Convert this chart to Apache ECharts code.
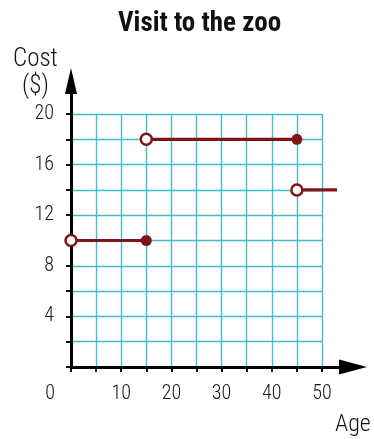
<!DOCTYPE html>
<html>
<head>
<meta charset="utf-8">
<script src="https://cdn.jsdelivr.net/npm/echarts@6/dist/echarts.min.js"></script>
<style>html,body{margin:0;padding:0;background:#fff;}#c{width:374px;height:439px;}</style>
</head>
<body>
<div id="c"></div>
<script>
// ---- data ----
const titleText = 'Visit to the zoo';
const xName = 'Age';
const yName = ['Cost', '($)'];
const segStartAge = [0, 15, 45];
const segEndAge = [15, 45, 53];
const segCost = [10, 18, 14];
const startOpen = [true, true, true];
const endMarker = ['closed', 'closed', 'none'];
const xTickLabels = [0, 10, 20, 30, 40, 50];
const yTickLabels = [4, 8, 12, 16, 20];
const xMax = 50, xStep = 5;
const yMax = 20, yStep = 2;

// ---- layout ----
const W = 374, H = 439;
const X0 = 71, Y0 = 367;       // origin px
const XG = 322, YG = 114;      // grid end px
const XA = 353, YA = 81;       // arrow axis end px (symbol centre)
const pxX = (XG - X0) / xMax, pxY = (Y0 - YG) / yMax;
const xMaxA = (XA - X0) / pxX, yMaxA = (Y0 - YA) / pxY;

const RED = '#7f1518';
const TEAL = '#45bcc3';
const FONT = "Roboto Condensed";
const TXT = '#151515';
const LW = 300;

const chart = echarts.init(document.getElementById('c'), null, {renderer: 'canvas'});

const series = segCost.map((c, i) => {
  const open = {symbol: 'circle', symbolSize: 11, itemStyle: {color: '#fff', borderColor: RED, borderWidth: 2.5}};
  const closed = {symbol: 'circle', symbolSize: 11, itemStyle: {color: RED, borderColor: RED, borderWidth: 0}};
  const none = {symbol: 'none'};
  const s = startOpen[i] ? open : closed;
  const e = endMarker[i] === 'closed' ? closed : (endMarker[i] === 'open' ? open : none);
  return {
    type: 'line', xAxisIndex: 0, yAxisIndex: 0, clip: false, z: 5,
    showSymbol: true, silent: true,
    lineStyle: {color: RED, width: 3.2},
    data: [
      Object.assign({value: [segStartAge[i], c]}, s),
      Object.assign({value: [segEndAge[i], c]}, e)
    ]
  };
});

chart.setOption({
  animation: false,
  backgroundColor: '#fff',
  title: {
    text: titleText, left: 113, top: 6,
    textStyle: {fontFamily: FONT, fontWeight: 'bold', fontSize: 27, color: '#111'}
  },
  grid: [
    {left: X0, right: W - XA, top: YA, bottom: H - Y0, containLabel: false},
    {left: X0, right: W - XG, top: YG, bottom: H - Y0, containLabel: false}
  ],
  xAxis: [
    {gridIndex: 0, type: 'value', min: 0, max: xMaxA, z: 3,
     axisLine: {show: true, symbol: ['none', 'triangle'], symbolSize: [15, 28], lineStyle: {color: '#000', width: 3}},
     axisTick: {show: false}, axisLabel: {show: false}, splitLine: {show: false}},
    {gridIndex: 1, type: 'value', min: 0, max: xMax, interval: xStep, z: 1,
     axisLine: {show: false},
     axisTick: {show: true, length: 5, lineStyle: {color: '#000', width: 1.5}},
     axisLabel: {show: true, margin: 17, fontFamily: FONT, fontWeight: LW, fontSize: 20, color: TXT,
       formatter: v => xTickLabels.indexOf(v) < 0 ? '' : (v === 0 ? '{z|0}' : String(v)),
       rich: {z: {fontFamily: FONT, fontWeight: LW, fontSize: 20, color: TXT, padding: [0, 42, 0, 0]}}},
     splitLine: {show: true, lineStyle: {color: TEAL, width: 1.4}}},
    {gridIndex: 1, type: 'value', min: 0, max: xMax, interval: xStep, z: 2,
     axisLine: {show: false},
     axisTick: {show: true, inside: true, length: 5, lineStyle: {color: '#000', width: 1.5}},
     axisLabel: {show: false}, splitLine: {show: false}}
  ],
  yAxis: [
    {gridIndex: 0, type: 'value', min: 0, max: yMaxA, z: 3,
     axisLine: {show: true, symbol: ['none', 'triangle'], symbolSize: [12, 26], lineStyle: {color: '#000', width: 3}},
     axisTick: {show: false}, axisLabel: {show: false}, splitLine: {show: false}},
    {gridIndex: 1, type: 'value', min: 0, max: yMax, interval: yStep, z: 1,
     axisLine: {show: false},
     axisTick: {show: true, length: 5, lineStyle: {color: '#000', width: 1.5}},
     axisLabel: {show: true, margin: 17, fontFamily: FONT, fontWeight: LW, fontSize: 20, color: TXT,
       formatter: v => yTickLabels.indexOf(v) < 0 ? '' : String(v)},
     splitLine: {show: true, lineStyle: {color: TEAL, width: 1.4}}},
    {gridIndex: 1, type: 'value', min: 0, max: yMax, interval: yStep, z: 2,
     axisLine: {show: false},
     axisTick: {show: true, inside: true, length: 5, lineStyle: {color: '#000', width: 1.5}},
     axisLabel: {show: false}, splitLine: {show: false}}
  ],
  graphic: [
    {type: 'text', left: 13, top: 47, style: {text: yName[0], fontFamily: FONT, fontWeight: LW, fontSize: 25, fill: TXT}},
    {type: 'text', left: 22, top: 74, style: {text: yName[1], fontFamily: FONT, fontWeight: LW, fontSize: 25, fill: TXT}},
    {type: 'text', left: 335, top: 413, style: {text: xName, fontFamily: FONT, fontWeight: LW, fontSize: 24, fill: TXT}}
  ],
  series: series
});
</script>
</body>
</html>
